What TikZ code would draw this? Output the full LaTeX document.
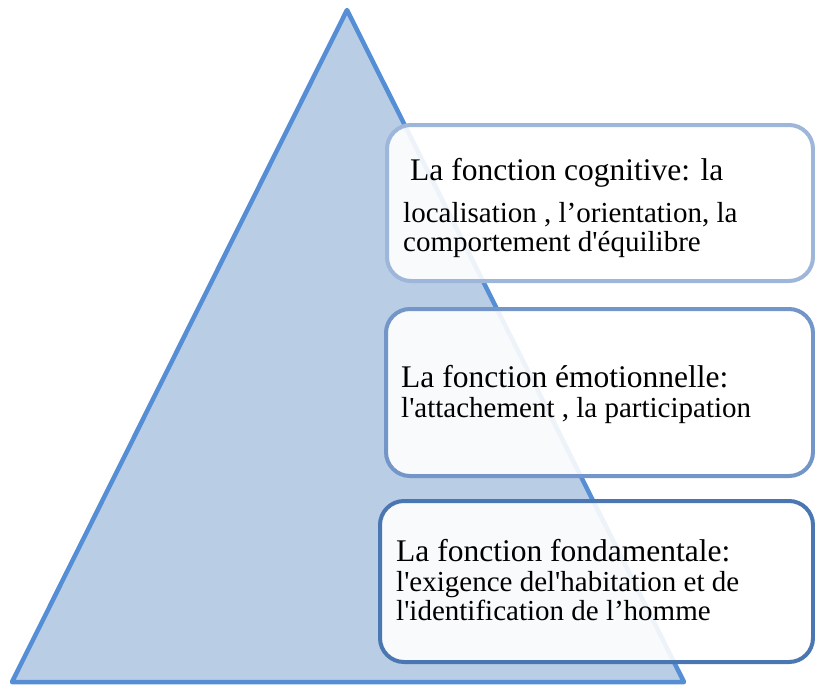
\documentclass[tikz,border=0pt]{standalone}
\usepackage{fontspec}
\newfontfamily\pyrfont{Liberation Serif}

\definecolor{trifill}{HTML}{B9CDE5}
\definecolor{triline}{HTML}{558ED5}
\definecolor{cogline}{HTML}{9DB6D9}
\definecolor{emoline}{HTML}{7395C8}
\definecolor{fondline}{HTML}{4A77B1}

\begin{document}
\begin{tikzpicture}[x=1pt,y=-1pt,
  fbox/.style={rectangle, rounded corners=24pt, line width=4pt, fill=white, fill opacity=0.9, text opacity=1},
  bigline/.style={anchor=base west, inner sep=0pt, font=\pyrfont\fontsize{31.5}{36}\selectfont},
  smallline/.style={anchor=base west, inner sep=0pt, font=\pyrfont\fontsize{29}{33}\selectfont}]

\useasboundingbox (0,0) rectangle (815,686);

%draw the triangle
\draw[line width=4.5pt, color=triline, fill=trifill, line join=round] (347,10) -- (684,682) -- (12,682) -- cycle;

%draw the three boxes
\node[fbox, draw=cogline, minimum width=426pt, minimum height=156pt] (cog) at (600,203) {};
\node[fbox, draw=emoline, minimum width=427pt, minimum height=167pt] (emo) at (599.5,392.5) {};
\node[fbox, draw=fondline, minimum width=433pt, minimum height=161pt] (fond) at (596.5,581.5) {};

%texts of the cognitive box
\node[bigline] (cogA) at (410,180) {La fonction cognitive: la};
\node[smallline] (cogB) at (403,222) {localisation , l’orientation, la};
\node[smallline] (cogC) at (403,251) {comportement d'équilibre};

%texts of the emotional box
\node[bigline] (emoA) at (401,387) {La fonction émotionnelle:};
\node[smallline] (emoB) at (401,417) {l'attachement , la participation};

%texts of the fundamental box
\node[bigline] (fondA) at (396,561) {La fonction fondamentale:};
\node[smallline] (fondB) at (396,591) {l'exigence del'habitation et de};
\node[smallline] (fondC) at (396,620) {l'identification de l’homme};

\end{tikzpicture}
\end{document}
